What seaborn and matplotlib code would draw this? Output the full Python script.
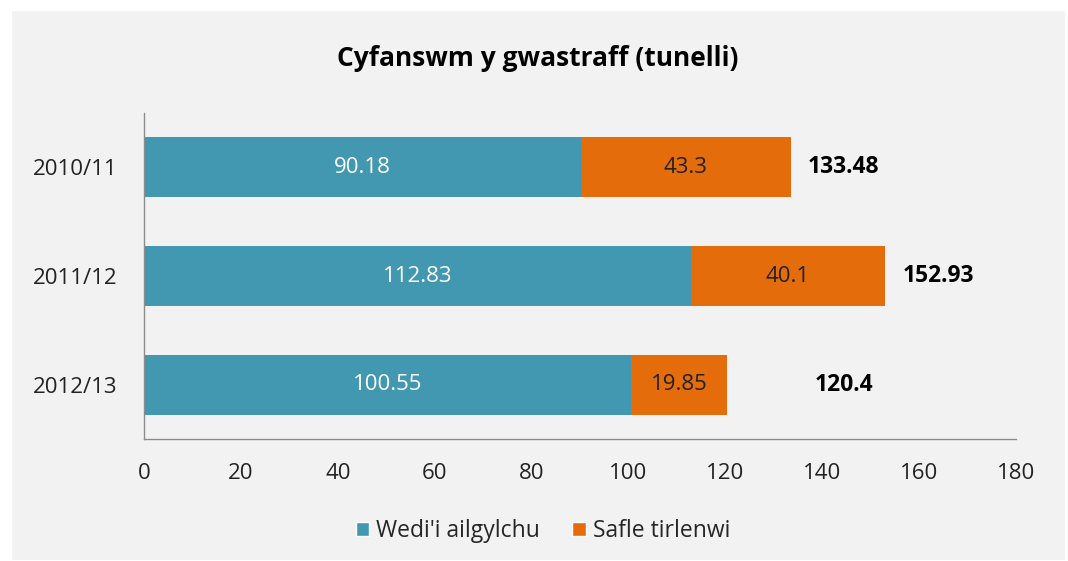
import matplotlib
matplotlib.use("Agg")
import matplotlib.pyplot as plt
import seaborn as sns
import pandas as pd
from matplotlib.patches import Rectangle, Patch

# data
years = ["2010/11", "2011/12", "2012/13"]
recycled = [90.18, 112.83, 100.55]
landfill = [43.3, 40.1, 19.85]
totals = [133.48, 152.93, 120.4]

series_names = ["Wedi'i ailgylchu", "Safle tirlenwi"]
teal = "#4298B0"
orange = "#E46C0A"
panel = "#F2F2F2"

sns.set_theme(style="white")
plt.rcParams['font.family'] = ['Open Sans', 'DejaVu Sans']

df = pd.DataFrame({"year": years, "recycled": recycled,
                   "landfill": landfill, "total": totals})

fig = plt.figure(figsize=(10.68, 5.61), dpi=100, facecolor="white")
fig.patches.append(Rectangle((12 / 1068, 1 - 560 / 561), 1053 / 1068, 549 / 561,
                             transform=fig.transFigure, facecolor=panel,
                             edgecolor="none", zorder=-10))

ax = fig.add_axes([144 / 1068, 1 - 439 / 561, 872 / 1068, 326 / 561])
ax.set_facecolor(panel)
ax.set_zorder(1)

# stacked bars: full length in orange, recycled part drawn over it
sns.barplot(data=df, x="total", y="year", color=orange, width=0.55,
            saturation=1, ax=ax, orient="h", linewidth=0)
sns.barplot(data=df, x="recycled", y="year", color=teal, width=0.55,
            saturation=1, ax=ax, orient="h", linewidth=0)

for i, row in df.iterrows():
    ax.text(row["recycled"] / 2, i, f"{row['recycled']:g}", ha="center",
            va="center", color="white", fontsize=16)
    ax.text(row["recycled"] + row["landfill"] / 2, i, f"{row['landfill']:g}",
            ha="center", va="center", color="#222222", fontsize=16)
    # total label sits to the right of the bar (never closer than the first row's spot)
    ax.text(max(row["total"], totals[0]) + 11, i, f"{row['total']:g}", ha="center",
            va="center", color="black", fontsize=16.5, fontweight="bold")

ax.set_xlim(0, 180)
ax.set_ylim(2.5, -0.5)
ax.set_xticks(range(0, 181, 20))
ax.set_xlabel("")
ax.set_ylabel("")
ax.tick_params(axis="both", length=0, labelsize=16, colors="#222222")
ax.tick_params(axis="x", pad=17)
ax.tick_params(axis="y", pad=19)
for s in ["top", "right"]:
    ax.spines[s].set_visible(False)
for s in ["left", "bottom"]:
    ax.spines[s].set_color("#8C8C8C")
    ax.spines[s].set_linewidth(1.0)

fig.text(538 / 1068, 1 - 58 / 561, "Cyfanswm y gwastraff (tunelli)",
         ha="center", va="center", fontsize=19, fontweight="bold", color="black")

handles = [Patch(facecolor=teal, label=series_names[0]),
           Patch(facecolor=orange, label=series_names[1])]
fig.legend(handles=handles, loc="center", bbox_to_anchor=(543 / 1068, 1 - 531 / 561),
           ncol=2, frameon=False, fontsize=16.5, handlelength=0.6, handleheight=0.6,
           handletextpad=0.3, columnspacing=1.4)

fig.savefig("out.png", dpi=100, facecolor="white")
